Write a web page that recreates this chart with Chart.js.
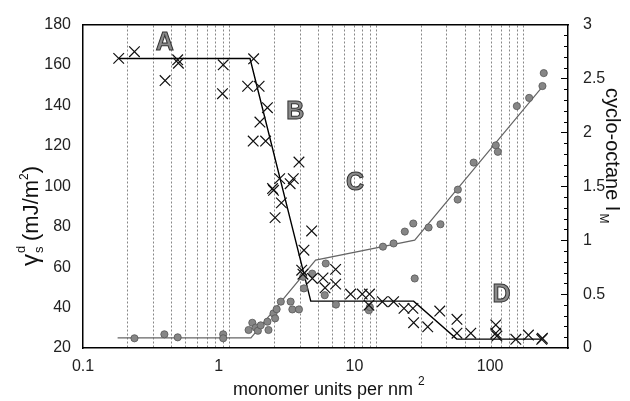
<!DOCTYPE html>
<html>
<head>
<meta charset="utf-8">
<script src="https://cdn.jsdelivr.net/npm/chart.js@4.4.1/dist/chart.umd.min.js"></script>
<style>
  html, body { margin: 0; padding: 0; background: #fff; }
  #wrap { width: 630px; height: 401px; position: relative; }
</style>
</head>
<body>
<div id="wrap"><canvas id="myChart"></canvas></div>
<script>
// gamma_s^d values (crosses, left axis)
const gammaX = [0.175, 0.224, 0.362, 0.441, 0.446, 0.90, 0.89, 1.45, 1.32, 1.58,
  1.80, 1.60, 1.44, 1.75, 2.95, 2.18, 2.70, 2.57, 1.95, 1.98,
  2.24, 2.03, 3.60, 3.19, 3.08, 3.14, 3.64, 4.30, 5.24, 4.44,
  5.24, 6.63, 7.95, 8.91, 8.83, 10.9, 13.0, 15.3, 17.6, 17.8,
  22.2, 26.8, 35.1, 35.1, 43.6, 64.5, 64.5, 65.6, 88.3, 107.6, 132.5, 134];
const gammaY = [163.3, 166.6, 152.3, 162.6, 160.9, 160.1, 145.8, 163.1, 149.5, 149.5,
  138.9, 131.8, 122.4, 122.4, 112.0, 103.8, 103.8, 101.3, 98.9, 98.0,
  91.8, 84.5, 77.9, 68.4, 58.5, 56.5, 54.4, 54.7, 58.9, 49.8,
  51.6, 46.7, 46.7, 46.7, 41.2, 42.9, 42.9, 39.6, 39.6, 32.5,
  30.5, 38.3, 34.2, 27.3, 27.3, 31.4, 27.3, 25.9, 24.3, 26.4, 24.3, 24.8];

// cyclo-octane I_M (grey dots, right axis)
const imX = [0.224, 0.358, 0.441, 0.90, 0.90, 1.34, 1.42, 1.50, 1.55, 1.62,
  1.80, 1.83, 1.98, 2.03, 2.08, 2.22, 2.59, 2.66, 2.95, 3.15,
  3.19, 3.63, 4.42, 4.49, 5.27, 8.83, 8.96, 11.0, 13.0, 15.5,
  17.7, 18.1, 22.5, 27.1, 35.5, 35.6, 45.6, 64.5, 66.6, 89.7,
  108.8, 134, 136.8];
const imY = [0.09, 0.127, 0.099, 0.127, 0.09, 0.167, 0.234, 0.19, 0.16, 0.21,
  0.244, 0.167, 0.321, 0.275, 0.36, 0.43, 0.43, 0.358, 0.358, 0.66,
  0.553, 0.69, 0.49, 0.784, 0.403, 0.35, 0.38, 0.94, 0.97, 1.08,
  1.155, 0.645, 1.118, 1.148, 1.377, 1.469, 1.72, 1.88, 1.82, 2.244,
  2.32, 2.43, 2.55];

// fitted lines
const gammaFitX = [0.175, 1.37, 3.55, 17.8, 35, 132];
const gammaFitY = [163.2, 163.2, 43.2, 43.2, 24.4, 24.4];
const imFitX = [0.172, 1.39, 3.83, 18.1, 139];
const imFitY = [0.093, 0.093, 0.815, 1.0, 2.45];

// vertical dotted lines and tick labels
const gridX = [0.2, 0.3, 0.4, 0.5, 0.6, 0.7, 0.8, 0.9, 1, 2, 3, 4, 5, 6, 7, 8, 9,
  10, 20, 30, 40, 50, 60, 70, 80, 90, 100];
const xLabels = [0.1, 1, 10, 100];

// region letters
const regionNames = ['A', 'B', 'C', 'D'];
const regionX = [0.36, 2.78, 7.1, 70.5];
const regionY = [171, 136.5, 101.5, 46];

const FONT = '"Liberation Sans", Arial, sans-serif';

function pts(xs, ys) { return xs.map((x, i) => ({ x: x, y: ys[i] })); }

const extras = {
  id: 'extras',
  afterDatasetsDraw(chart) {
    const ctx = chart.ctx, sx = chart.scales.x, sy = chart.scales.y;
    ctx.save();
    ctx.font = 'bold 25px ' + FONT;
    ctx.textAlign = 'center';
    ctx.textBaseline = 'middle';
    ctx.fillStyle = '#8a8a8a';
    ctx.strokeStyle = '#333';
    ctx.lineWidth = 1;
    regionNames.forEach((t, i) => {
      const px = sx.getPixelForValue(regionX[i]), py = sy.getPixelForValue(regionY[i]);
      ctx.fillText(t, px, py);
      ctx.strokeText(t, px, py);
    });
    ctx.restore();
  },
  afterDraw(chart) {
    const ctx = chart.ctx, a = chart.chartArea, s2 = chart.scales.y2;
    ctx.save();
    // small inward ticks on right axis
    ctx.strokeStyle = '#000';
    ctx.lineWidth = 1;
    for (let k = 1; k < 30; k++) {
      const py = Math.round(s2.getPixelForValue(k / 10)) + 0.5;
      const len = k % 5 === 0 ? 7 : 4;
      ctx.beginPath(); ctx.moveTo(a.right - len, py); ctx.lineTo(a.right, py); ctx.stroke();
    }
    ctx.fillStyle = '#111';
    ctx.textBaseline = 'alphabetic';
    ctx.textAlign = 'left';
    // bottom title
    ctx.font = '18px ' + FONT;
    const bt = 'monomer units per nm';
    const bw = ctx.measureText(bt).width;
    ctx.fillText(bt, 233, 395);
    ctx.font = '12px ' + FONT;
    ctx.fillText('2', 233 + bw + 5, 385);
    // left title
    ctx.save();
    ctx.translate(38, 266);
    ctx.rotate(-Math.PI / 2);
    ctx.font = '24px ' + FONT;
    ctx.fillText('\u03b3', 0, 0);
    let p = ctx.measureText('\u03b3').width + 1;
    ctx.font = '13px ' + FONT;
    ctx.fillText('s', p, 5);
    ctx.fillText('d', p, -13);
    p += 12;
    ctx.font = '22px ' + FONT;
    ctx.fillText('(mJ/m', p, 0);
    p += ctx.measureText('(mJ/m').width;
    ctx.font = '12px ' + FONT;
    ctx.fillText('2', p, -10);
    p += ctx.measureText('2').width;
    ctx.font = '22px ' + FONT;
    ctx.fillText(')', p, 0);
    ctx.restore();
    // right title
    ctx.save();
    ctx.translate(606, 88);
    ctx.rotate(Math.PI / 2);
    ctx.font = '20px ' + FONT;
    ctx.fillText('cyclo-octane I', 0, 0);
    const rw = ctx.measureText('cyclo-octane I').width;
    ctx.font = '12px ' + FONT;
    ctx.fillText('M', rw + 2, 6);
    ctx.restore();
    ctx.restore();
  }
};

const ctx = document.getElementById('myChart');

new Chart(ctx, {
  type: 'scatter',
  data: {
    datasets: [
      {
        label: 'gamma',
        data: pts(gammaX, gammaY),
        xAxisID: 'x', yAxisID: 'y',
        pointStyle: 'crossRot', pointRadius: 7.5,
        borderColor: '#111', borderWidth: 1.2,
        order: 1
      },
      {
        label: 'IM',
        data: pts(imX, imY),
        xAxisID: 'x', yAxisID: 'y2',
        pointStyle: 'circle', pointRadius: 3.6,
        backgroundColor: '#868686', borderColor: '#555', borderWidth: 0.8,
        order: 2
      },
      {
        label: 'gamma fit',
        data: pts(gammaFitX, gammaFitY),
        xAxisID: 'x', yAxisID: 'y',
        showLine: true, pointRadius: 0,
        borderColor: '#000', borderWidth: 1.4,
        order: 3
      },
      {
        label: 'IM fit',
        data: pts(imFitX, imFitY),
        xAxisID: 'x', yAxisID: 'y2',
        showLine: true, pointRadius: 0,
        borderColor: '#666', borderWidth: 1.2,
        order: 4
      }
    ]
  },
  options: {
    responsive: true,
    maintainAspectRatio: false,
    animation: false,
    layout: { padding: 0 },
    scales: {
      x: {
        type: 'logarithmic', position: 'top', min: 0.1, max: 200,
        afterBuildTicks: s => { s.ticks = gridX.map(v => ({ value: v })); },
        afterFit: s => { s.height = 24; },
        ticks: { display: false },
        grid: { color: '#7a7a7a', lineWidth: 0.9, drawTicks: false },
        border: { color: '#000', width: 1.5, dash: [2, 2] }
      },
      // label-only axis: the printed labels sit slightly off the grid decades
      xl: {
        type: 'logarithmic', position: 'bottom', min: 0.1, max: 375,
        afterBuildTicks: s => { s.ticks = xLabels.map(v => ({ value: v })); },
        afterFit: s => { s.height = 53; },
        ticks: { callback: v => String(v), font: { family: FONT, size: 16 }, color: '#222', padding: 9, maxRotation: 0, autoSkip: false },
        grid: { display: false, drawTicks: false },
        border: { color: '#000', width: 1.5 }
      },
      y: {
        position: 'left', min: 20, max: 180,
        afterFit: s => { s.width = 83; },
        ticks: { stepSize: 20, font: { family: FONT, size: 16 }, color: '#222', padding: 12 },
        grid: { display: false, drawTicks: false },
        border: { color: '#000', width: 1.5 }
      },
      y2: {
        position: 'right', min: 0, max: 3,
        afterFit: s => { s.width = 62; },
        ticks: { stepSize: 0.5, callback: v => String(v), font: { family: FONT, size: 16 }, color: '#222', padding: 15 },
        grid: { display: false, drawTicks: false },
        border: { color: '#000', width: 1.5 }
      }
    },
    plugins: { legend: { display: false }, tooltip: { enabled: false } }
  },
  plugins: [extras]
});
</script>
</body>
</html>
